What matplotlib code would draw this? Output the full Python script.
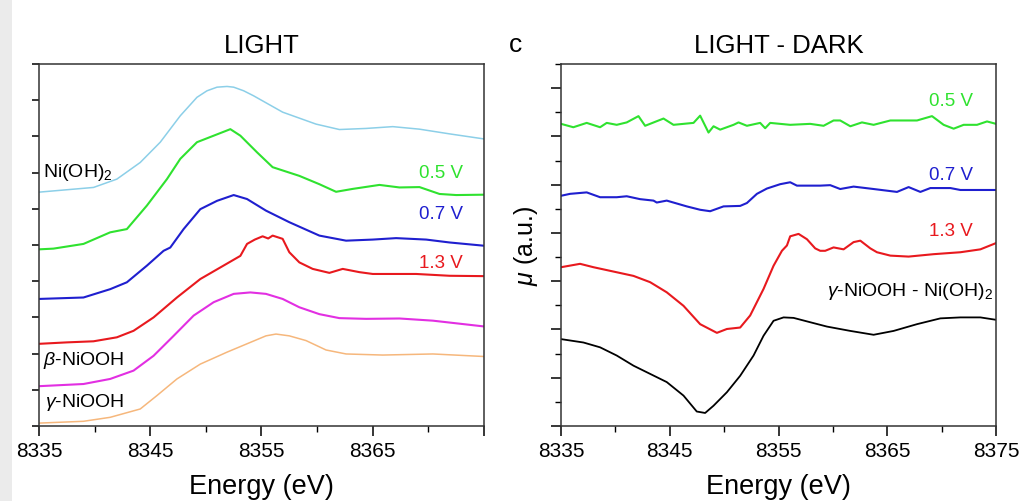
import matplotlib
matplotlib.use("Agg")
import matplotlib.pyplot as plt
from matplotlib.patches import Rectangle
from matplotlib.ticker import MultipleLocator

plt.rcParams['font.family'] = ['Liberation Sans', 'DejaVu Sans']
plt.rcParams['mathtext.fontset'] = 'custom'
plt.rcParams['mathtext.rm'] = 'Liberation Sans'
plt.rcParams['mathtext.it'] = 'Liberation Sans:italic'

# ---- LIGHT spectra (offset stack) ----
ni_oh2_E = [8335, 8339.9, 8342, 8344.1, 8345.9, 8347.7, 8349.2, 8350.1, 8351, 8351.9, 8352.5,
            8353.4, 8354.3, 8356.9, 8359.9, 8362, 8364.4, 8366.8, 8369.2, 8371.9, 8375]
ni_oh2_mu = [6.46, 6.59, 6.82, 7.28, 7.84, 8.57, 9.08, 9.26, 9.36, 9.38, 9.36,
             9.26, 9.12, 8.67, 8.34, 8.19, 8.22, 8.27, 8.20, 8.07, 7.93]

l05_E = [8335, 8336.3, 8339, 8341.4, 8342.9, 8344.7, 8346.5, 8347.7, 8349.2, 8350.7,
         8352.2, 8353.1, 8354.6, 8356, 8358.4, 8360.2, 8361.7, 8363.2, 8365.6, 8367.4,
         8369.2, 8371, 8372.5, 8375]
l05_mu = [4.88, 4.90, 5.03, 5.35, 5.44, 6.09, 6.82, 7.38, 7.84, 8.02,
          8.20, 8.02, 7.56, 7.15, 6.91, 6.68, 6.47, 6.55, 6.66, 6.59,
          6.60, 6.41, 6.38, 6.39]

l07_E = [8335, 8339, 8341.4, 8342.9, 8344.7, 8346.2, 8346.8, 8348, 8349.5, 8351,
         8352.5, 8353.7, 8355.4, 8357.5, 8360.2, 8362.6, 8365, 8367.1, 8369.8, 8371.9, 8375]
l07_mu = [3.51, 3.55, 3.78, 3.97, 4.43, 4.84, 4.93, 5.44, 5.99, 6.22,
          6.38, 6.27, 5.95, 5.63, 5.26, 5.12, 5.15, 5.19, 5.15, 5.07, 4.98]

l13_E = [8335, 8337.5, 8339.9, 8342, 8343.5, 8345.3, 8347.4, 8349.5, 8351.3, 8353.1,
         8353.7, 8354.4, 8355.1, 8355.6, 8356, 8356.9, 8357.5, 8358.4, 8359.6, 8361.1,
         8362.3, 8363.8, 8365, 8368.9, 8371.9, 8375]
l13_mu = [2.27, 2.31, 2.34, 2.45, 2.63, 3.00, 3.55, 4.06, 4.38, 4.70,
          5.03, 5.15, 5.24, 5.18, 5.26, 5.17, 4.80, 4.52, 4.34, 4.23,
          4.34, 4.25, 4.20, 4.20, 4.15, 4.14]

beta_E = [8335, 8339, 8341.4, 8343.5, 8345.3, 8347.1, 8348.9, 8350.7, 8352.5, 8354,
          8355.4, 8356.9, 8358.4, 8360.2, 8362, 8364.4, 8367.4, 8370.4, 8375]
beta_mu = [1.10, 1.16, 1.30, 1.53, 1.94, 2.49, 3.05, 3.42, 3.65, 3.69,
           3.65, 3.51, 3.28, 3.09, 2.98, 2.96, 2.97, 2.91, 2.75]

gamma_E = [8335, 8339, 8341.4, 8344.1, 8345.6, 8347.4, 8349.5, 8351.9, 8354, 8355.4,
           8356.3, 8357.5, 8359, 8360.8, 8362.6, 8365.9, 8370.4, 8375]
gamma_mu = [0.08, 0.13, 0.24, 0.47, 0.84, 1.30, 1.71, 2.04, 2.31, 2.49,
            2.54, 2.49, 2.36, 2.10, 1.99, 1.96, 1.99, 1.92]

# ---- LIGHT - DARK difference spectra ----
d05_E = [8335, 8336.13, 8337.36, 8338.59, 8339.2, 8340.12, 8341.04, 8342.12, 8342.73, 8344.42,
         8345.34, 8347.18, 8347.79, 8348.56, 8349.02, 8349.63, 8350.86, 8351.32, 8352.09, 8353.31,
         8353.77, 8354.23, 8356.07, 8357.91, 8359.14, 8360.06, 8360.67, 8361.6, 8362.67, 8363.74,
         8365.28, 8367.73, 8369.11, 8370.18, 8371.1, 8372.02, 8373.25, 8374.17, 8375]
d05_mu = [6.26, 6.19, 6.28, 6.19, 6.28, 6.24, 6.29, 6.42, 6.22, 6.37,
          6.24, 6.28, 6.43, 6.08, 6.21, 6.14, 6.24, 6.29, 6.22, 6.28,
          6.17, 6.28, 6.24, 6.26, 6.22, 6.33, 6.33, 6.21, 6.29, 6.24,
          6.33, 6.33, 6.42, 6.24, 6.16, 6.24, 6.24, 6.31, 6.26]

d07_E = [8335, 8335.83, 8337.36, 8338.59, 8340.12, 8341.04, 8342.27, 8343.5, 8343.8, 8344.72,
         8346.56, 8347.79, 8348.71, 8349.94, 8351.47, 8352.09, 8353.01, 8353.93, 8355.15, 8356.07,
         8356.69, 8357.91, 8358.83, 8359.75, 8360.67, 8361.9, 8363.74, 8365.89, 8366.96, 8368.04,
         8368.96, 8370.8, 8371.72, 8375]
d07_mu = [4.77, 4.81, 4.84, 4.74, 4.74, 4.76, 4.70, 4.67, 4.63, 4.67,
          4.55, 4.48, 4.45, 4.55, 4.56, 4.62, 4.81, 4.92, 5.01, 5.05,
          4.98, 4.98, 4.98, 4.99, 4.91, 4.96, 4.91, 4.85, 4.95, 4.85,
          4.93, 4.93, 4.89, 4.89]

d13_E = [8335, 8336.75, 8337.98, 8339.82, 8341.66, 8343.19, 8344.72, 8346.26, 8347.79, 8349.33,
         8350.25, 8351.47, 8352.39, 8353.62, 8354.54, 8355.31, 8355.77, 8356.07, 8356.84, 8357.61,
         8358.37, 8358.83, 8359.29, 8360.06, 8360.98, 8361.9, 8362.52, 8363.44, 8364.05, 8365.28,
         8366.96, 8369.26, 8371.72, 8373.56, 8375]
d13_mu = [3.29, 3.36, 3.29, 3.20, 3.11, 2.98, 2.77, 2.49, 2.11, 1.93,
          2.01, 2.04, 2.29, 2.84, 3.32, 3.63, 3.74, 3.93, 3.98, 3.87,
          3.68, 3.63, 3.63, 3.70, 3.66, 3.81, 3.84, 3.68, 3.60, 3.53,
          3.51, 3.56, 3.60, 3.66, 3.79]

ref_E = [8335, 8337.06, 8338.59, 8340.12, 8341.66, 8343.19, 8344.72, 8346.26, 8347.48, 8348.25,
         8349.02, 8350.25, 8351.47, 8352.7, 8353.62, 8354.54, 8355.46, 8356.38, 8357.91, 8359.45,
         8361.6, 8363.74, 8365.58, 8367.73, 8369.88, 8371.72, 8373.56, 8375]
ref_mu = [1.80, 1.73, 1.63, 1.46, 1.25, 1.08, 0.91, 0.63, 0.30, 0.27,
          0.42, 0.70, 1.04, 1.46, 1.87, 2.18, 2.25, 2.24, 2.15, 2.06,
          1.97, 1.89, 1.97, 2.11, 2.23, 2.25, 2.25, 2.20]

major_E = [8335, 8345, 8355, 8365, 8375]
minor_E = [8340, 8350, 8360, 8370]

GREEN = '#2fe22f'
BLUE = '#1f1fcf'
RED = '#e8191e'

fig = plt.figure(figsize=(10.34, 5.02), dpi=100)
ax1 = fig.add_axes([0.0377, 0.1494, 0.4304, 0.7211])
ax2 = fig.add_axes([0.5426, 0.1494, 0.4207, 0.7211])

ax1.plot(ni_oh2_E, ni_oh2_mu, color='#8ccfe8', lw=1.1)
ax1.plot(l05_E, l05_mu, color=GREEN, lw=1.5)
ax1.plot(l07_E, l07_mu, color=BLUE, lw=1.5)
ax1.plot(l13_E, l13_mu, color=RED, lw=1.5)
ax1.plot(beta_E, beta_mu, color='#e22fe2', lw=1.5)
ax1.plot(gamma_E, gamma_mu, color='#f6b77c', lw=1.1)

ax2.plot(d05_E, d05_mu, color=GREEN, lw=1.5)
ax2.plot(d07_E, d07_mu, color=BLUE, lw=1.5)
ax2.plot(d13_E, d13_mu, color=RED, lw=1.5)
ax2.plot(ref_E, ref_mu, color='black', lw=1.3)

for ax in (ax1, ax2):
    ax.set_xlim(8335, 8375)
    ax.set_xticks(major_E)
    ax.set_xticks(minor_E, minor=True)
    ax.tick_params(axis='x', which='major', direction='out', length=7, width=1.1,
                   labelsize=15, pad=4)
    ax.tick_params(axis='x', which='minor', direction='out', length=4, width=1.0)
    ax.tick_params(axis='y', labelleft=False)
    for s in ax.spines.values():
        s.set_linewidth(1.1)
        s.set_color('#333333')
    ax.set_xlabel('Energy (eV)', fontsize=19.5, labelpad=9)

ax1.set_ylim(0, 10)
ax1.yaxis.set_major_locator(MultipleLocator(1))
ax1.tick_params(axis='y', which='major', direction='out', length=5, width=1.1)
ax1.set_xticklabels(['8335', '8345', '8355', '8365', ''])
ax1.set_title('LIGHT', fontsize=18.5, pad=9)

ax2.set_ylim(0, 7.5)
ax2.yaxis.set_major_locator(MultipleLocator(1))
ax2.yaxis.set_minor_locator(MultipleLocator(0.5))
ax2.tick_params(axis='y', which='major', direction='out', length=7, width=1.1)
ax2.tick_params(axis='y', which='minor', direction='out', length=4, width=1.0)
ax2.set_title('LIGHT - DARK', fontsize=18.5, pad=9)
ax2.set_ylabel(r'$\mu$ (a.u.)', fontsize=18, labelpad=8)

lab = dict(fontsize=13.5, ha='right', va='center')
ax1.text(0.953, 0.699, '0.5 V', color=GREEN, transform=ax1.transAxes, **lab)
ax1.text(0.953, 0.586, '0.7 V', color=BLUE, transform=ax1.transAxes, **lab)
ax1.text(0.953, 0.453, '1.3 V', color=RED, transform=ax1.transAxes, **lab)
ax1.text(0.009, 0.702, r'Ni(OH)$_2$', fontsize=14, va='center', transform=ax1.transAxes)
ax1.text(0.009, 0.185, r'$\beta$-NiOOH', fontsize=14, va='center', transform=ax1.transAxes)
ax1.text(0.013, 0.069, r'$\gamma$-NiOOH', fontsize=14, va='center', transform=ax1.transAxes)

ax2.text(0.947, 0.898, '0.5 V', color=GREEN, transform=ax2.transAxes, **lab)
ax2.text(0.947, 0.696, '0.7 V', color=BLUE, transform=ax2.transAxes, **lab)
ax2.text(0.947, 0.539, '1.3 V', color=RED, transform=ax2.transAxes, **lab)
ax2.text(0.993, 0.373, r'$\gamma$-NiOOH - Ni(OH)$_2$', fontsize=14, ha='right',
         va='center', transform=ax2.transAxes)

fig.text(516 / 1034, 1 - 45 / 502, 'c', fontsize=19, ha='center', va='center')

# strip of the neighbouring panel along the left edge
fig.patches.append(Rectangle((0, 0), 12 / 1034, 1, transform=fig.transFigure,
                             facecolor='#ebebeb', edgecolor='none', zorder=10))

fig.savefig('out.png', dpi=100)
